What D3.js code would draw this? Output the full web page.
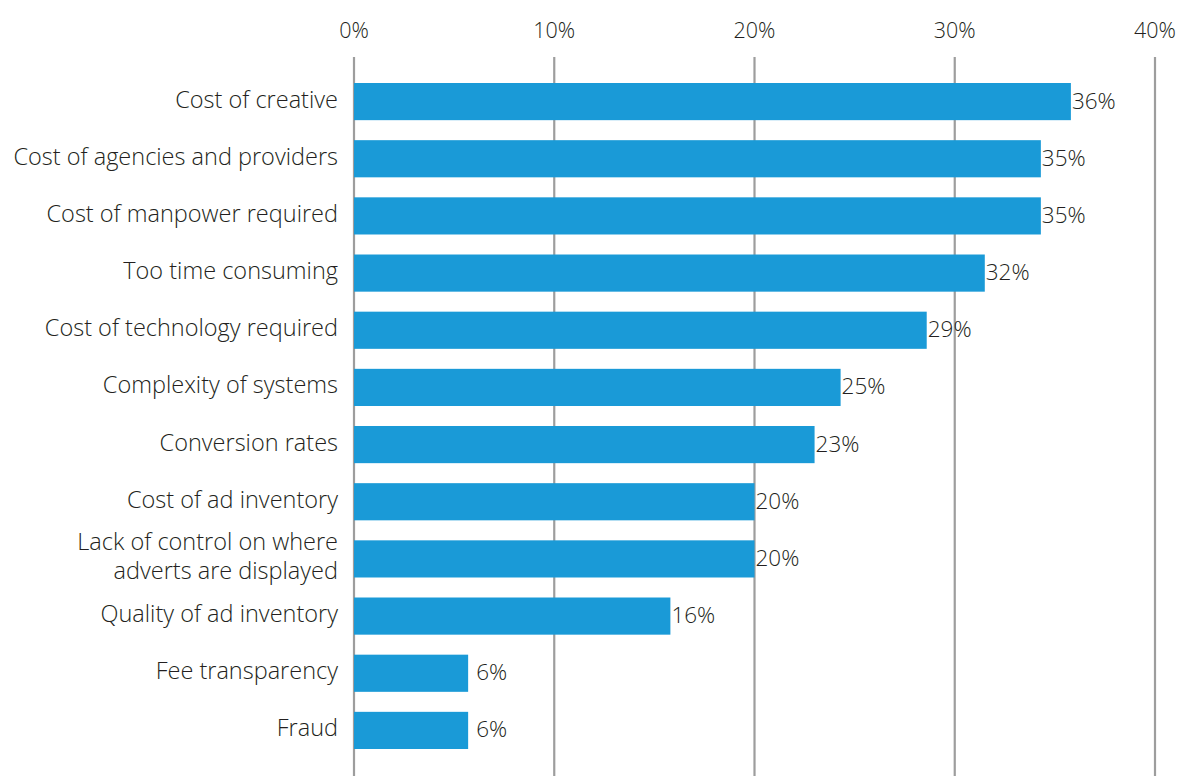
<!DOCTYPE html>
<html>
<head>
<meta charset="utf-8">
<script src="https://cdn.jsdelivr.net/npm/d3@7"></script>
<style>
  body { margin: 0; background: #fff; }
  svg text { font-family: "Open Sans", "Noto Sans", sans-serif; font-weight: 300; fill: #231f20; }
</style>
</head>
<body>
<svg id="chart" width="1178" height="776"></svg>
<script>
// categories, top to bottom
const categories = [
  ["Cost of creative"],
  ["Cost of agencies and providers"],
  ["Cost of manpower required"],
  ["Too time consuming"],
  ["Cost of technology required"],
  ["Complexity of systems"],
  ["Conversion rates"],
  ["Cost of ad inventory"],
  ["Lack of control on where", "adverts are displayed"],
  ["Quality of ad inventory"],
  ["Fee transparency"],
  ["Fraud"]
];
// bar lengths as drawn (%)
const values = [35.8, 34.3, 34.3, 31.5, 28.6, 24.3, 23.0, 20.0, 20.0, 15.8, 5.7, 5.7];
// printed labels
const valueLabels = ["36%", "35%", "35%", "32%", "29%", "25%", "23%", "20%", "20%", "16%", "6%", "6%"];
const ticks = [0, 10, 20, 30, 40];

const svg = d3.select("#chart");
const x = d3.scaleLinear().domain([0, 40]).range([354, 1155]);
const y = d3.scaleBand().domain(d3.range(categories.length)).range([73, 759]).paddingInner(0.35).paddingOuter(0.175);

// gridlines
svg.append("g").selectAll("line")
  .data(ticks)
  .enter().append("line")
  .attr("x1", d => x(d)).attr("x2", d => x(d))
  .attr("y1", 57).attr("y2", 776)
  .attr("stroke", "#9d9d9d")
  .attr("stroke-width", 2.2);

// top tick labels
svg.append("g").selectAll("text")
  .data(ticks)
  .enter().append("text")
  .attr("x", d => x(d))
  .attr("y", 38)
  .attr("text-anchor", "middle")
  .style("font-size", "21.5px")
  .text(d => d + "%");

// bars
svg.append("g").selectAll("rect")
  .data(values)
  .enter().append("rect")
  .attr("x", x(0))
  .attr("y", (d, i) => y(i))
  .attr("width", d => x(d) - x(0))
  .attr("height", y.bandwidth())
  .attr("fill", "#1a9ad7");

// value labels (single digit ones sit a digit further right)
svg.append("g").selectAll("text")
  .data(values)
  .enter().append("text")
  .attr("x", (d, i) => x(d) + 1 + (valueLabels[i].length < 3 ? 7 : 0))
  .attr("y", (d, i) => y(i) + y.bandwidth() / 2 + 7)
  .style("font-size", "22.5px")
  .text((d, i) => valueLabels[i]);

// category labels
const lab = svg.append("g").selectAll("text")
  .data(categories)
  .enter().append("text")
  .attr("x", 338)
  .attr("y", (d, i) => y(i) + y.bandwidth() / 2 + 6 - (d.length - 1) * 14.5)
  .attr("text-anchor", "end")
  .style("font-size", "23.5px");

lab.selectAll("tspan")
  .data(d => d)
  .enter().append("tspan")
  .attr("x", 338)
  .attr("dy", (d, j) => j === 0 ? 0 : 29)
  .text(d => d);
</script>
</body>
</html>
